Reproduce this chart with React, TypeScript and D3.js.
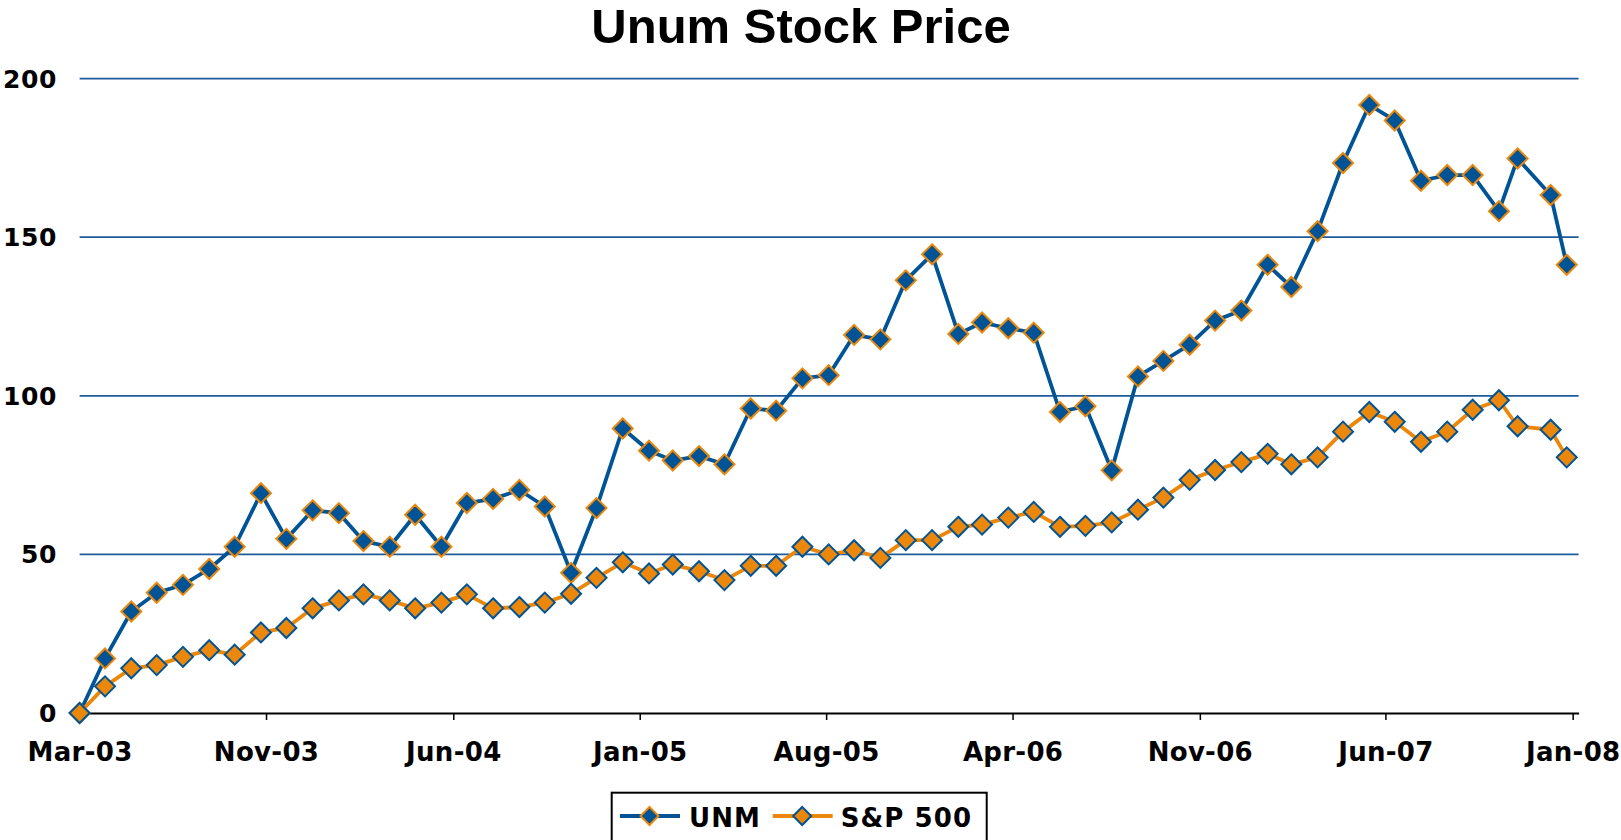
import { useEffect, useRef } from 'react';
import {
  axisBottom,
  line,
  scaleLinear,
  scaleTime,
  select,
  timeFormat,
  timeParse,
} from 'd3';

const dates = [
  '2003-03-31', '2003-04-30', '2003-05-31', '2003-06-30', '2003-07-31', '2003-08-31',
  '2003-09-30', '2003-10-31', '2003-11-30', '2003-12-31',
  '2004-01-31', '2004-02-29', '2004-03-31', '2004-04-30', '2004-05-31', '2004-06-30',
  '2004-07-31', '2004-08-31', '2004-09-30', '2004-10-31', '2004-11-30', '2004-12-31',
  '2005-01-31', '2005-02-28', '2005-03-31', '2005-04-30', '2005-05-31', '2005-06-30',
  '2005-07-31', '2005-08-31', '2005-09-30', '2005-10-31', '2005-11-30', '2005-12-31',
  '2006-01-31', '2006-02-28', '2006-03-31', '2006-04-30', '2006-05-31', '2006-06-30',
  '2006-07-31', '2006-08-31', '2006-09-30', '2006-10-31', '2006-11-30', '2006-12-31',
  '2007-01-31', '2007-02-28', '2007-03-31', '2007-04-30', '2007-05-31', '2007-06-30',
  '2007-07-31', '2007-08-31', '2007-09-30', '2007-10-31', '2007-11-22', '2007-12-31',
  '2008-01-19',
];

const unm = [
  0, 17.2, 32.0, 37.9, 40.4, 45.4, 52.4, 69.3, 54.9, 63.9,
  63.0, 54.2, 52.4, 62.5, 52.4, 66.2, 67.5, 70.3, 65.1, 44.2,
  64.6, 89.7, 82.7, 79.6, 81.0, 78.4, 96.0, 95.3, 105.5, 106.5,
  119.2, 117.8, 136.4, 144.6, 119.5, 123.1, 121.3, 119.9, 94.9, 96.7,
  76.5, 106.1, 111.0, 116.1, 123.7, 126.9, 141.3, 134.3, 151.9, 173.4,
  191.7, 186.8, 167.8, 169.6, 169.6, 158.2, 174.8, 163.3, 141.3,
];

const sp500 = [
  0, 8.4, 14.1, 15.1, 17.7, 19.8, 18.4, 25.4, 26.8, 33.0,
  35.5, 37.4, 35.5, 33.0, 34.8, 37.4, 33.0, 33.4, 34.8, 37.6,
  42.6, 47.5, 44.0, 46.8, 44.7, 41.9, 46.4, 46.4, 52.4, 50.0,
  51.3, 48.9, 54.5, 54.5, 58.7, 59.4, 61.6, 63.4, 58.7, 59.0,
  60.1, 64.1, 67.9, 73.5, 76.6, 79.1, 81.7, 78.4, 80.6, 88.7,
  94.9, 91.8, 85.5, 88.7, 95.6, 98.6, 90.4, 89.3, 80.6,
];

const xDomain = ['2003-03-31', '2008-02-02'];
const xTicks = [
  '2003-03-31', '2003-11-06', '2004-06-14', '2005-01-20', '2005-08-28',
  '2006-04-05', '2006-11-12', '2007-06-19', '2008-01-26',
];
const yTicks = [0, 50, 100, 150, 200];

const BLUE = '#005496';
const ORANGE = '#EB870A';
const GRID = '#1F5A9A';
const FONT = 'DejaVu Sans, Verdana, sans-serif';

const width = 1621;
const height = 840;
const left = 79.6;
const right = 1578.6;
const top = 78.6;
const bottom = 713;

const parse = timeParse('%Y-%m-%d');
const diamond = (r: number) => `M0,${-r}L${r},0L0,${r}L${-r},0Z`;

const App = () => {
  const svgRef = useRef<SVGSVGElement>(null);

  useEffect(() => {
    const svg = select(svgRef.current);
    svg.selectAll('*').remove();

    const x = scaleTime()
      .domain(xDomain.map((d) => parse(d)!))
      .range([left, right]);
    const y = scaleLinear().domain([0, 200]).range([bottom, top]);

    const series = [
      { key: 'UNM', values: unm, line: BLUE, fill: BLUE, stroke: ORANGE },
      { key: 'S&P 500', values: sp500, line: ORANGE, fill: ORANGE, stroke: BLUE },
    ];

    // title
    svg
      .append('text')
      .attr('x', 801)
      .attr('y', 43)
      .attr('text-anchor', 'middle')
      .attr('font-family', 'Liberation Sans, Arial, sans-serif')
      .attr('font-weight', 'bold')
      .attr('font-size', 49)
      .text('Unum Stock Price');

    // gridlines
    svg
      .append('g')
      .selectAll('line')
      .data(yTicks.filter((d) => d > 0))
      .join('line')
      .attr('x1', left)
      .attr('x2', right)
      .attr('y1', (d) => y(d))
      .attr('y2', (d) => y(d))
      .attr('stroke', GRID)
      .attr('stroke-width', 1.8);

    // y labels
    svg
      .append('g')
      .selectAll('text')
      .data(yTicks)
      .join('text')
      .attr('x', 57)
      .attr('y', (d) => y(d))
      .attr('dy', '0.36em')
      .attr('text-anchor', 'end')
      .attr('font-family', FONT)
      .attr('font-weight', 'bold')
      .attr('font-size', 25)
      .attr('letter-spacing', 0.6)
      .text((d) => d);

    // x axis
    const xAxis = svg
      .append('g')
      .attr('transform', `translate(0,${bottom})`)
      .call(
        axisBottom(x)
          .tickValues(xTicks.map((d) => parse(d)!))
          .tickFormat((d) => timeFormat('%b-%y')(d as Date))
          .tickSize(7)
          .tickSizeOuter(0),
      );
    xAxis.select('.domain').attr('stroke', '#000').attr('stroke-width', 2);
    xAxis.selectAll('.tick line').attr('stroke', '#000').attr('stroke-width', 1.5);
    xAxis
      .selectAll('.tick text')
      .attr('y', 48)
      .attr('dy', 0)
      .attr('fill', '#000')
      .attr('font-family', FONT)
      .attr('font-weight', 'bold')
      .attr('font-size', 26)
      .attr('letter-spacing', 0.3);

    const pts = (values: number[]) =>
      values.map((v, i) => [x(parse(dates[i])!), y(v)] as [number, number]);

    series.forEach((s) => {
      const g = svg.append('g');
      g.append('path')
        .attr('d', line()(pts(s.values)))
        .attr('fill', 'none')
        .attr('stroke', s.line)
        .attr('stroke-width', 3.8)
        .attr('stroke-linejoin', 'round');
      g.selectAll('path.m')
        .data(pts(s.values))
        .join('path')
        .attr('class', 'm')
        .attr('transform', (d) => `translate(${d[0]},${d[1]})`)
        .attr('d', diamond(10))
        .attr('fill', s.fill)
        .attr('stroke', s.stroke)
        .attr('stroke-width', 2);
    });

    // legend
    const lg = svg.append('g');
    lg.append('rect')
      .attr('x', 611.7)
      .attr('y', 792.7)
      .attr('width', 375)
      .attr('height', 60)
      .attr('fill', '#fff')
      .attr('stroke', '#000')
      .attr('stroke-width', 2);
    const items = [
      { ...series[0], x0: 620, tx: 689 },
      { ...series[1], x0: 772.7, tx: 840.7 },
    ];
    items.forEach((it) => {
      lg.append('line')
        .attr('x1', it.x0)
        .attr('x2', it.x0 + 60)
        .attr('y1', 816)
        .attr('y2', 816)
        .attr('stroke', it.line)
        .attr('stroke-width', 4);
      lg.append('path')
        .attr('transform', `translate(${it.x0 + 29.5},816)`)
        .attr('d', diamond(9))
        .attr('fill', it.fill)
        .attr('stroke', it.stroke)
        .attr('stroke-width', 2);
      lg.append('text')
        .attr('x', it.tx)
        .attr('y', 826.5)
        .attr('font-family', FONT)
        .attr('font-weight', 'bold')
        .attr('font-size', 26)
        .attr('letter-spacing', 1.1)
        .text(it.key);
    });
  }, []);

  return (
    <svg
      ref={svgRef}
      width={width}
      height={height}
      style={{ position: 'absolute', left: 0, top: 0, background: '#fff' }}
    />
  );
};

export default App;
